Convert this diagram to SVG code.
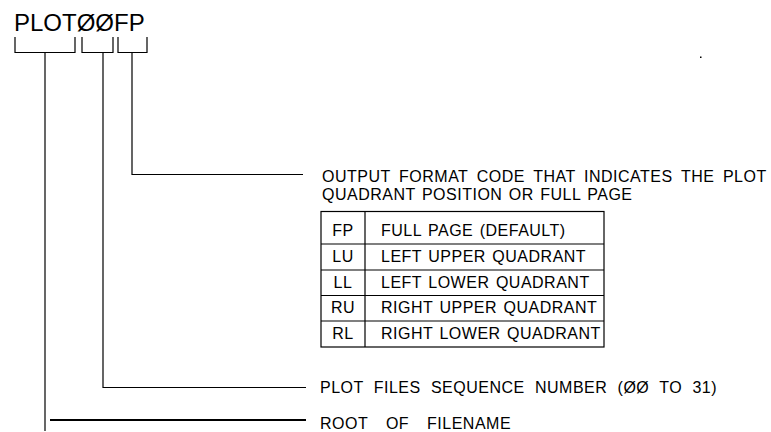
<svg xmlns="http://www.w3.org/2000/svg" width="771" height="432" viewBox="0 0 771 432">
<style>
.t{font-family:"Liberation Sans",Arial,sans-serif;font-size:16px;letter-spacing:0.5px;fill:#000}
.ttl{font-family:"Liberation Sans",Arial,sans-serif;font-size:24px;fill:#000}
.c{text-anchor:middle}
.ln{fill:none;stroke:#000;stroke-width:1.2}
.thick{fill:none;stroke:#000;stroke-width:2.2}
</style>
<rect width="771" height="432" fill="#fff"/>
<g id="filename">
<text class="ttl" x="14" y="30.5">PLOTØØFP</text>
</g>
<g id="connectors">
<path class="ln" d="M15,37 V52.5 H75 V37"/>
<path class="ln" d="M82,37 V52.5 H113 V37"/>
<path class="ln" d="M118,37 V52.5 H147 V37"/>
<path class="ln" d="M45,52.5 V431"/>
<path class="ln" d="M103,52.5 V387.5 H306"/>
<path class="ln" d="M132,52.5 V174.5 H303"/>
<path class="thick" d="M50,420 H306"/>
</g>
<g id="format-code">
<text class="t" x="322" y="181.5" word-spacing="3.6">OUTPUT FORMAT CODE THAT INDICATES THE PLOT</text>
<text class="t" x="322" y="199.5" word-spacing="1.5">QUADRANT POSITION OR FULL PAGE</text>
</g>
<g id="format-table">
<rect class="ln" x="321" y="211.5" width="283" height="135.5"/>
<path class="ln" d="M365,211.5 V347 M321,244 H604 M321,270 H604 M321,295.5 H604 M321,321 H604"/>
<text class="t c" x="343" y="236">FP</text>
<text class="t c" x="343" y="262">LU</text>
<text class="t c" x="343" y="287.5">LL</text>
<text class="t c" x="343" y="313">RU</text>
<text class="t c" x="343" y="339">RL</text>
<text class="t" x="381" y="236" word-spacing="1.5">FULL PAGE (DEFAULT)</text>
<text class="t" x="381" y="262" word-spacing="1.5">LEFT UPPER QUADRANT</text>
<text class="t" x="381" y="287.5" word-spacing="1.5">LEFT LOWER QUADRANT</text>
<text class="t" x="381" y="313" word-spacing="1.5">RIGHT UPPER QUADRANT</text>
<text class="t" x="381" y="339" word-spacing="1.5">RIGHT LOWER QUADRANT</text>
</g>
<g id="sequence-number">
<text class="t" x="320" y="393" word-spacing="5.3">PLOT FILES SEQUENCE NUMBER (ØØ TO 31)</text>
</g>
<g id="root">
<text class="t" x="320" y="428.5" word-spacing="13">ROOT OF FILENAME</text>
</g>
<rect x="700" y="56.5" width="1.5" height="1.5" fill="#000"/>
</svg>
